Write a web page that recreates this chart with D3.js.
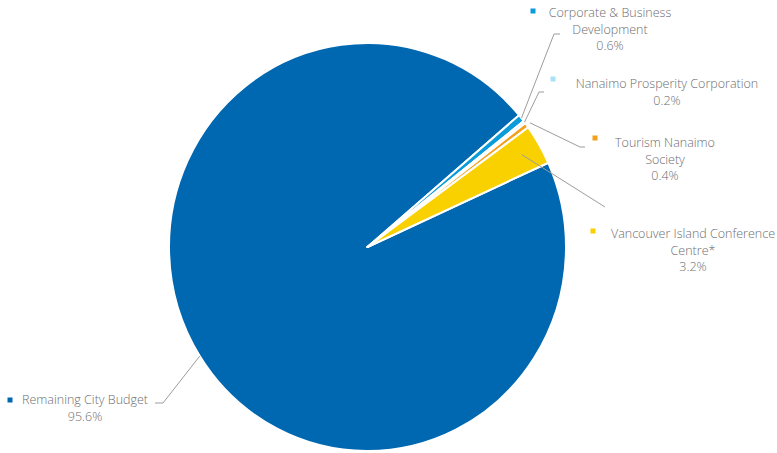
<!DOCTYPE html>
<html>
<head>
<meta charset="utf-8">
<script src="https://cdn.jsdelivr.net/npm/d3@7"></script>
<style>
  body { margin: 0; background: #fff; }
  text { font-family: "Open Sans", sans-serif; font-weight: 300; fill: #6d6e71; }
</style>
</head>
<body>
<svg id="chart" width="777" height="453"></svg>
<script>
const categories = [
  "Remaining City Budget",
  "Corporate & Business Development",
  "Nanaimo Prosperity Corporation",
  "Tourism Nanaimo Society",
  "Vancouver Island Conference Centre*"
];
const shares = [95.6, 0.6, 0.2, 0.4, 3.2];
const labelLines = [
  ["Remaining City Budget"],
  ["Corporate & Business", "Development"],
  ["Nanaimo Prosperity Corporation"],
  ["Tourism Nanaimo", "Society"],
  ["Vancouver Island Conference", "Centre*"]
];
const sliceColors = ["#0067b1", "#0a9bd9", "#a9e1f7", "#f3a01a", "#f9d000"];

// label placement: text centre x, first baseline y, marker pos, elbow, line end, radius factor of line start
const layout = [
  { tx: 85, ty: 404, mx: 10, my: 400, elbow: [163, 403], end: [155, 403], rf: 1.0 },
  { tx: 610, ty: 17, mx: 533, my: 11, elbow: [554, 34], end: [560, 34], rf: 1.0 },
  { tx: 667, ty: 88, mx: 553, my: 79, elbow: [539, 92], end: [544, 92], rf: 1.0 },
  { tx: 665, ty: 147, mx: 595, my: 138, elbow: [580, 147], end: [585, 147], rf: 1.02 },
  { tx: 693, ty: 238, mx: 593, my: 231, elbow: [605, 207], end: [605, 207], rf: 0.9 }
];

const data = categories.map((c, i) => ({ name: c, value: shares[i], lines: labelLines[i], color: sliceColors[i], lay: layout[i] }));

const cx = 367.5, cy = 247, radius = 198.5;
const stretchY = 1.028; // the original is a bit taller than wide
const startDeg = 65.6;

const pie = d3.pie()
  .sort(null)
  .value(d => d.value)
  .startAngle(startDeg * Math.PI / 180)
  .endAngle(startDeg * Math.PI / 180 + 2 * Math.PI);

const arc = d3.arc().innerRadius(0).outerRadius(radius);

const svg = d3.select("#chart");
const g = svg.append("g").attr("transform", `translate(${cx},${cy}) scale(1,${stretchY})`);

const arcs = pie(data);

g.selectAll(".slice")
  .data(arcs)
  .enter()
  .append("path")
  .classed("slice", true)
  .attr("d", arc)
  .attr("fill", d => d.data.color)
  .attr("stroke", "#fff")
  .attr("stroke-width", 2)
  .attr("stroke-linejoin", "round");

// leader lines
svg.selectAll(".leader")
  .data(arcs)
  .enter()
  .append("polyline")
  .classed("leader", true)
  .attr("points", d => {
    const a = (d.startAngle + d.endAngle) / 2;
    const r = radius * d.data.lay.rf;
    const sx = cx + r * Math.sin(a);
    const sy = cy - r * Math.cos(a) * stretchY;
    return [[sx, sy], d.data.lay.elbow, d.data.lay.end].map(p => p.join(",")).join(" ");
  })
  .attr("fill", "none")
  .attr("stroke", "#9d9d9d")
  .attr("stroke-width", 1);

// markers
svg.selectAll(".marker")
  .data(data)
  .enter()
  .append("rect")
  .classed("marker", true)
  .attr("x", d => d.lay.mx - 2.5)
  .attr("y", d => d.lay.my - 2.5)
  .attr("width", 5)
  .attr("height", 5)
  .attr("fill", d => d.color);

// labels
const labels = svg.selectAll(".label")
  .data(data)
  .enter()
  .append("text")
  .classed("label", true)
  .attr("text-anchor", "middle")
  .style("font-size", "12.5px");

labels.each(function (d) {
  const t = d3.select(this);
  const rows = d.lines.concat([d.value.toFixed(1) + "%"]);
  rows.forEach((row, i) => {
    t.append("tspan")
      .attr("x", d.lay.tx)
      .attr("y", d.lay.ty + i * 16.5)
      .text(row);
  });
});
</script>
</body>
</html>
